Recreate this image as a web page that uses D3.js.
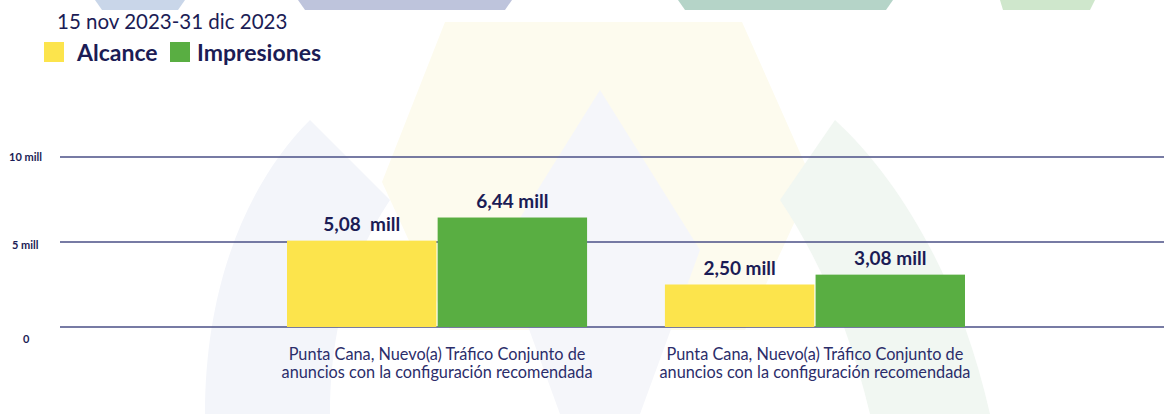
<!DOCTYPE html>
<html>
<head>
<meta charset="utf-8">
<script src="https://cdn.jsdelivr.net/npm/d3@7"></script>
<style>
  html, body { margin: 0; padding: 0; background: #fff; }
  svg { display: block; }
  text { font-family: Lato, "Open Sans", sans-serif; fill: #1b1c55; }
</style>
</head>
<body>
<svg id="chart" width="1164" height="414"></svg>
<script>
// data
const period = '15 nov 2023-31 dic 2023';
const series = ['Alcance', 'Impresiones'];
const seriesColors = ['#fce44c', '#59ae42'];
const categoryLines = [
  ['Punta Cana, Nuevo(a) Tráfico Conjunto de', 'anuncios con la configuración recomendada'],
  ['Punta Cana, Nuevo(a) Tráfico Conjunto de', 'anuncios con la configuración recomendada']
];
const alcance = [5.08, 2.50];
const impresiones = [6.44, 3.08];
const alcanceLabels = ['5,08  mill', '2,50 mill'];
const impresionesLabels = ['6,44 mill', '3,08 mill'];
const yTicks = [0, 5, 10];
const yTickLabels = ['0', '5 mill', '10 mill'];

const svg = d3.select('#chart');

// faint watermark shapes behind the chart
const bg = svg.append('g');
bg.append('path')
  .attr('d', 'M445,22 L742,22 L813,182 L745,330 L655,330 L598,190 L540,330 L450,330 L382,182 Z')
  .attr('fill', '#fdfbee');
bg.append('path')
  .attr('d', 'M310,120 C250,180 205,280 205,414 L330,414 C330,330 350,260 390,200 Z')
  .attr('fill', '#f3f5fa');
bg.append('path')
  .attr('d', 'M835,120 C900,180 960,280 990,414 L870,414 C850,330 820,260 780,200 Z')
  .attr('fill', '#f1f7f2');
bg.append('path')
  .attr('d', 'M600,90 L700,250 L640,414 L560,414 L500,250 Z')
  .attr('fill', '#f5f6fa');
const tops = [
  { x0: 95, x1: 185, x2: 178, x3: 102, c: '#c9d6e9' },
  { x0: 298, x1: 512, x2: 505, x3: 305, c: '#bec4dc' },
  { x0: 678, x1: 893, x2: 886, x3: 685, c: '#b5d4c8' },
  { x0: 1000, x1: 1095, x2: 1090, x3: 1003, c: '#cfe7cc' }
];
bg.selectAll('path.top').data(tops).enter().append('path')
  .attr('class', 'top')
  .attr('d', d => `M${d.x0},0 L${d.x1},0 L${d.x2},10 L${d.x3},10 Z`)
  .attr('fill', d => d.c);

// scales
const y = d3.scaleLinear().domain([0, 10]).range([327, 157]);
const x0 = d3.scaleBand().domain(d3.range(alcance.length)).range([287, 965]).paddingInner(0.206);
const x1 = d3.scaleBand().domain(series).range([0, x0.bandwidth()]).paddingInner(0.008);

// grid lines + tick labels
const grid = svg.append('g');
grid.selectAll('line').data(yTicks).enter().append('line')
  .attr('x1', 60).attr('x2', 1164)
  .attr('y1', d => y(d)).attr('y2', d => y(d))
  .attr('stroke', '#4a4f86').attr('stroke-width', 1.3);
grid.selectAll('text').data(yTicks).enter().append('text')
  .attr('x', (d, i) => [23, 12, 9][i])
  .attr('y', (d, i) => y(d) + [16, 7, 4][i])
  .style('font-size', '11px').style('font-weight', 700)
  .text((d, i) => yTickLabels[i]);

// bars
const rows = alcance.map((v, i) => [
  { key: series[0], value: v, label: alcanceLabels[i], color: seriesColors[0] },
  { key: series[1], value: impresiones[i], label: impresionesLabels[i], color: seriesColors[1] }
]);

const groups = svg.selectAll('g.group').data(rows).enter().append('g')
  .attr('class', 'group')
  .attr('transform', (d, i) => `translate(${x0(i)},0)`);

groups.selectAll('rect').data(d => d).enter().append('rect')
  .attr('x', d => x1(d.key))
  .attr('y', d => y(d.value))
  .attr('width', x1.bandwidth())
  .attr('height', d => y(0) - y(d.value))
  .attr('fill', d => d.color);

groups.selectAll('text.val').data(d => d).enter().append('text')
  .attr('class', 'val')
  .attr('x', d => x1(d.key) + x1.bandwidth() / 2)
  .attr('y', d => y(d.value) - 10)
  .attr('text-anchor', 'middle')
  .style('font-size', '19px').style('font-weight', 700)
  .style('white-space', 'pre')
  .text(d => d.label);

// category labels
groups.append('text')
  .attr('x', x0.bandwidth() / 2)
  .attr('text-anchor', 'middle')
  .style('font-size', '16.3px')
  .style('fill', '#2b2d6a')
  .selectAll('tspan').data((d, i) => categoryLines[i]).enter().append('tspan')
  .attr('x', x0.bandwidth() / 2)
  .attr('y', (d, i) => 360 + i * 18)
  .text(d => d);

// title + legend
svg.append('text')
  .attr('x', 57).attr('y', 29)
  .style('font-size', '20.5px')
  .text(period);

const legend = svg.append('g');
const legendPos = [{ sx: 44, tx: 77 }, { sx: 170, tx: 197 }];
series.forEach((s, i) => {
  legend.append('rect')
    .attr('x', legendPos[i].sx).attr('y', 42)
    .attr('width', 20).attr('height', 20)
    .attr('fill', seriesColors[i]);
  legend.append('text')
    .attr('x', legendPos[i].tx).attr('y', 61)
    .style('font-size', '23px').style('font-weight', 700)
    .text(s);
});
</script>
</body>
</html>
